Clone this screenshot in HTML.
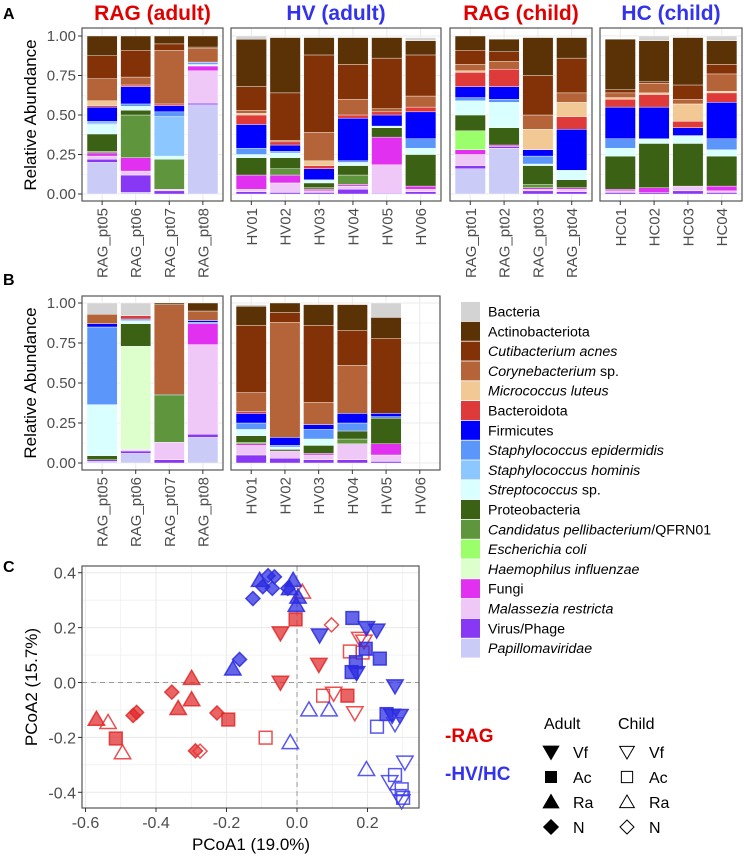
<!DOCTYPE html>
<html><head><meta charset="utf-8"><style>
body{margin:0;background:#fff}
svg{display:block;font-family:"Liberation Sans",Arial,sans-serif}
</style></head><body>
<svg id="fig" width="744" height="856" viewBox="0 0 744 856" xmlns="http://www.w3.org/2000/svg"></svg>
<script>
// ---- data ----
const catNames = ["Papillomaviridae","Virus/Phage","Malassezia restricta","Fungi","Haemophilus influenzae","Escherichia coli","Candidatus pellibacterium/QFRN01","Proteobacteria","Streptococcus sp.","Staphylococcus hominis","Staphylococcus epidermidis","Firmicutes","Bacteroidota","Micrococcus luteus","Corynebacterium sp.","Cutibacterium acnes","Actinobacteriota","Bacteria"];
const catColors = ["#cbcbf8","#8837f5","#f0c8f8","#e130f0","#dcffcc","#9aff6a","#5e953d","#3a6114","#d9ffff","#8cc8ff","#5b97fa","#0000ff","#de3a3a","#f2c994","#b5643a","#833208","#5a3206","#d3d3d3"];

const groupsA = ["RAG (adult)","HV (adult)","RAG (child)","HC (child)"];
const samplesA1 = ["RAG_pt05","RAG_pt06","RAG_pt07","RAG_pt08"];
const samplesA2 = ["HV01","HV02","HV03","HV04","HV05","HV06"];
const samplesA3 = ["RAG_pt01","RAG_pt02","RAG_pt03","RAG_pt04"];
const samplesA4 = ["HC01","HC02","HC03","HC04"];
const valuesA1 = [
 [.20,.02,.02,.02,0,0,.01,.11,.06,.01,.01,.09,.01,.03,.14,.145,.125,0],
 [.01,.11,.025,.085,0,0,.27,.03,.025,0,.015,.11,.01,0,.05,.17,.09,0],
 [0,.02,.01,0,0,0,.19,0,.02,.25,.03,.04,.01,0,.34,.04,.05,0],
 [.565,.01,.205,.03,0,0,0,0,.01,0,.01,.005,0,0,.085,.01,.07,0]];
const valuesA2 = [
 [0,.015,.015,.09,0,0,0,.11,.02,0,.04,.15,.06,.01,.02,.15,.30,.02],
 [0,.01,.06,.05,0,0,.04,.07,.03,0,.01,.04,.02,0,.01,.30,.35,0],
 [0,.01,.01,.01,0,0,.01,.03,.02,0,0,.07,.02,.03,.18,.49,.11,0],
 [0,.03,.02,.01,0,0,.06,.06,.02,0,.01,.27,.02,0,.10,.22,.17,0],
 [0,.005,.18,.175,0,0,0,.06,.01,0,0,.07,.02,0,.02,.32,.13,0],
 [0,.015,.015,.02,0,0,0,.20,.04,0,.06,.17,.03,0,.07,.26,.09,.02]];
const valuesA3 = [
 [.16,.02,.07,.03,0,.12,0,.10,.09,0,.02,.07,.09,.01,.04,.09,.09,0],
 [.29,.01,0,.01,0,0,0,.11,.16,0,.02,.08,.11,0,.05,.06,.08,0],
 [0,.02,.01,.01,0,0,.02,.12,.01,0,.05,.04,0,.13,.09,.25,.24,0],
 [0,.015,.015,.01,0,0,0,.05,.06,0,0,.26,.08,.09,.06,.22,.13,0]];
const valuesA4 = [
 [0,.01,.01,.01,0,0,0,.21,.05,0,.06,.20,.05,.01,.03,.02,.32,0],
 [0,.01,0,.03,0,0,0,.28,.03,0,0,.20,.08,.01,.06,.01,.26,.03],
 [0,.02,.03,0,0,0,0,.27,.05,0,0,.05,.04,.11,.03,.09,.30,0],
 [0,.01,.01,.03,0,0,0,.19,.04,0,.07,.23,.06,.01,.11,.06,.15,.03]];
const valuesB1 = [
 [.01,.01,0,0,0,0,0,.025,.32,0,.485,.02,0,0,.06,0,0,.07],
 [.06,.015,.01,0,.645,0,0,.14,.02,0,.01,0,.02,0,0,0,0,.08],
 [0,.02,.11,0,0,0,.29,.01,0,0,0,0,0,0,.56,0,.01,0],
 [.16,.02,.56,.13,0,0,0,0,0,0,.01,.01,0,0,.06,0,.05,0]];
const valuesB2 = [
 [0,.05,.06,.01,0,0,.01,.04,.04,0,.04,.06,.01,0,.12,.42,.12,.01],
 [0,.03,.04,.005,0,0,0,.01,.015,0,.01,.05,0,0,.72,.06,.06,0],
 [0,.02,.03,.01,0,0,0,.05,.04,0,.06,.03,0,0,.14,.48,.13,0],
 [0,.02,.10,0,0,0,.03,.05,0,0,.05,.06,0,0,.30,.22,.16,0],
 [0,.01,.04,.07,0,0,0,.16,0,0,.01,.02,0,0,0,.47,.13,.09],
 [0,0,0,0,0,0,0,0,0,0,0,0,0,0,0,0,0,0]];
const yTicksBar = ["0.00","0.25","0.50","0.75","1.00"];

// PCoA points: [x, y]
const ragAdultVf = [[-0.047,0.18],[0.062,0.065],[-0.047,0.0]];
const ragAdultAc = [[-0.514,-0.204],[-0.195,-0.135],[-0.004,0.23],[0.143,-0.048]];
const ragAdultRa = [[-0.569,-0.133],[-0.299,0.016],[-0.337,-0.094],[-0.299,-0.062]];
const ragAdultN  = [[-0.355,-0.035],[-0.455,-0.109],[-0.465,-0.12],[-0.288,-0.249],[-0.227,-0.111]];
const ragChildVf = [[0.104,-0.04],[0.164,-0.111],[0.178,0.16],[0.19,0.15]];
const ragChildAc = [[-0.089,-0.201],[0.074,-0.048],[0.15,0.113],[0.186,0.109]];
const ragChildRa = [[-0.536,-0.145],[-0.495,-0.255],[0.015,0.33]];
const ragChildN  = [[-0.275,-0.25],[0.098,0.21]];
const hvVf = [[0.064,0.172],[0.197,0.199],[0.226,0.19],[0.169,0.035],[0.278,-0.013],[0.292,-0.121],[0.27,-0.12]];
const hvAc = [[0.157,0.235],[0.195,0.123],[0.235,0.087],[0.167,0.074],[0.155,0.038],[0.254,-0.115]];
const hvRa = [[-0.182,0.05],[-0.106,0.373],[-0.011,0.373],[-0.002,0.282],[-0.021,0.343],[0.003,0.312]];
const hvN  = [[-0.125,0.306],[-0.163,0.084],[-0.082,0.389],[-0.064,0.385],[-0.07,0.343],[-0.026,0.343],[-0.097,0.349]];
const hcVf = [[0.278,-0.151],[0.306,-0.291],[0.263,-0.362],[0.297,-0.432],[0.287,-0.413]];
const hcAc = [[0.227,-0.161],[0.278,-0.337],[0.297,-0.389],[0.301,-0.42]];
const hcRa = [[0.034,-0.099],[0.091,-0.099],[-0.019,-0.218],[0.197,-0.316]];
const hcN  = [];
const xTicksC = [-0.6,-0.4,-0.2,0.0,0.2];
const yTicksC = [-0.4,-0.2,0.0,0.2,0.4];

// ---- drawing ----
const svg = document.getElementById('fig');
const NS = "http://www.w3.org/2000/svg";
function mk(tag, attrs, parent){const e=document.createElementNS(NS,tag);for(const k in attrs)e.setAttribute(k,attrs[k]);(parent||svg).appendChild(e);return e;}
function txt(s, attrs, parent){const e=mk('text',attrs,parent);e.textContent=s;return e;}

function barPanel(x0,x1,y0,y1,ytop,ybot,samples,values,title,tcol,showY,name){
  const g=mk('g',{});
  
  
  const yS=v=>ybot-(ybot-ytop)*v;
  const n=samples.length, step=(x1-x0)/(n+0.2);
  const xC=i=>x0+(i+0.6)*step;
  for(let k=0;k<=8;k++){const yy=yS(k/8);mk('line',{x1:x0,x2:x1,y1:yy,y2:yy,stroke:'#ebebeb','stroke-width':k%2?0.6:1.1},g);}
  for(let i=0;i<n;i++)mk('line',{x1:xC(i),x2:xC(i),y1:y0,y2:y1,stroke:'#ebebeb','stroke-width':1.1},g);
  values.forEach((vals,i)=>{let c=0;vals.forEach((v,k)=>{if(v<=0)return;const r=mk('rect',{x:xC(i)-0.45*step,width:0.9*step,y:yS(c+v),height:yS(c)-yS(c+v),fill:catColors[k],stroke:'#fff','stroke-width':0.4},g);
    
    
    c+=v;});});
  mk('rect',{x:x0,y:y0,width:x1-x0,height:y1-y0,fill:'none',stroke:'#555','stroke-width':1.2},g);
  samples.forEach((s,i)=>{mk('line',{x1:xC(i),x2:xC(i),y1:y1,y2:y1+4,stroke:'#333'},g);
    const t=txt(s,{transform:`translate(${xC(i)+5.5},${y1+7}) rotate(-90)`,'text-anchor':'end','font-size':15,fill:'#4d4d4d'},g);
    
    });
  if(showY){yTicksBar.forEach((s,k)=>{const yy=yS(k/4);mk('line',{x1:x0-4,x2:x0,y1:yy,y2:yy,stroke:'#333'},g);
    const t=txt(s,{x:x0-6,y:yy+5,'text-anchor':'end','font-size':15,fill:'#4d4d4d'},g);
    
    });}
  if(title){const t=txt(title,{x:(x0+x1)/2,y:20,'text-anchor':'middle','font-size':21,'font-weight':'bold',fill:tcol},g);
    
    }
}
barPanel(82,223,28,201,36,194,samplesA1,valuesA1,groupsA[0],'#e00000',true,'panel-a-rag-adult');
barPanel(231,441,28,201,36,194,samplesA2,valuesA2,groupsA[1],'#3333ee',false,'panel-a-hv-adult');
barPanel(450,592,28,201,36,194,samplesA3,valuesA3,groupsA[2],'#e00000',false,'panel-a-rag-child');
barPanel(600,742,28,201,36,194,samplesA4,valuesA4,groupsA[3],'#3333ee',false,'panel-a-hc-child');
barPanel(82,223,296,470,303,463,samplesA1,valuesB1,null,null,true,'panel-b-rag-adult');
barPanel(231,440,296,470,303,463,samplesA2,valuesB2,null,null,false,'panel-b-hv-adult');

let t;
t=txt('Relative Abundance',{transform:'translate(36,115) rotate(-90)','text-anchor':'middle','font-size':17,fill:'#000'});

t=txt('Relative Abundance',{transform:'translate(36,383) rotate(-90)','text-anchor':'middle','font-size':17,fill:'#000'});

t=txt('A',{x:3,y:19,'font-size':16,'font-weight':'bold'});
t=txt('B',{x:3,y:285,'font-size':16,'font-weight':'bold'});
t=txt('C',{x:3,y:572,'font-size':16,'font-weight':'bold'});

const legendOrder=catNames.map((_,i)=>catNames.length-1-i);
const legendHTML={"Cutibacterium acnes":'<tspan font-style="italic">Cutibacterium acnes</tspan>',
"Corynebacterium sp.":'<tspan font-style="italic">Corynebacterium</tspan> sp.',
"Micrococcus luteus":'<tspan font-style="italic">Micrococcus luteus</tspan>',
"Staphylococcus epidermidis":'<tspan font-style="italic">Staphylococcus epidermidis</tspan>',
"Staphylococcus hominis":'<tspan font-style="italic">Staphylococcus hominis</tspan>',
"Streptococcus sp.":'<tspan font-style="italic">Streptococcus</tspan> sp.',
"Candidatus pellibacterium/QFRN01":'<tspan font-style="italic">Candidatus pellibacterium</tspan>/QFRN01',
"Escherichia coli":'<tspan font-style="italic">Escherichia coli</tspan>',
"Haemophilus influenzae":'<tspan font-style="italic">Haemophilus influenzae</tspan>',
"Malassezia restricta":'<tspan font-style="italic">Malassezia restricta</tspan>',
"Papillomaviridae":'<tspan font-style="italic">Papillomaviridae</tspan>'};
legendOrder.forEach((k,j)=>{const yy=302+j*19.8;
  const r=mk('rect',{x:461,y:yy,width:19,height:19,fill:catColors[k]});
  
  
  const e=mk('text',{x:488,y:yy+14.5,'font-size':14.2,fill:'#000'});
  e.innerHTML=legendHTML[catNames[k]]||catNames[k];
  
  
});

// Panel C
const cx0=82,cx1=419,cy0=566,cy1=808;
const xS=v=>297+v*352.5, yS=v=>682.5-v*274.5;
const gC=mk('g',{});


for(let v=-0.6;v<=0.31;v+=0.1){const xx=xS(v);mk('line',{x1:xx,x2:xx,y1:cy0,y2:cy1,stroke:'#ebebeb','stroke-width':Math.abs(Math.round(v*10))%2?0.6:1.1},gC);}
for(let v=-0.4;v<=0.41;v+=0.1){const yy=yS(v);mk('line',{x1:cx0,x2:cx1,y1:yy,y2:yy,stroke:'#ebebeb','stroke-width':Math.abs(Math.round(v*10))%2?0.6:1.1},gC);}
mk('line',{x1:xS(0),x2:xS(0),y1:cy0,y2:cy1,stroke:'#999','stroke-dasharray':'5,4','stroke-width':1},gC);
mk('line',{x1:cx0,x2:cx1,y1:yS(0),y2:yS(0),stroke:'#999','stroke-dasharray':'5,4','stroke-width':1},gC);
function shape(type,x,y,s,filled,col,parent,op){
  let e;const a={stroke:col,'stroke-width':1.5,fill:filled?col:'none'};
  if(filled)a['fill-opacity']=op;
  if(type==='sq'){e=mk('rect',Object.assign({x:x-s*0.75,y:y-s*0.75,width:s*1.5,height:s*1.5},a),parent);}
  else if(type==='up'){e=mk('polygon',Object.assign({points:`${x},${y-s} ${x+s*1.05},${y+s*0.8} ${x-s*1.05},${y+s*0.8}`},a),parent);}
  else if(type==='dn'){e=mk('polygon',Object.assign({points:`${x},${y+s} ${x+s*1.05},${y-s*0.8} ${x-s*1.05},${y-s*0.8}`},a),parent);}
  else {e=mk('polygon',Object.assign({points:`${x},${y-s} ${x+s},${y} ${x},${y+s} ${x-s},${y}`},a),parent);}
  return e;
}
const sets=[[ragAdultVf,'dn',1,'#e02828'],[ragAdultAc,'sq',1,'#e02828'],[ragAdultRa,'up',1,'#e02828'],[ragAdultN,'di',1,'#e02828'],
[ragChildVf,'dn',0,'#e83030'],[ragChildAc,'sq',0,'#e83030'],[ragChildRa,'up',0,'#e83030'],[ragChildN,'di',0,'#e83030'],
[hvVf,'dn',1,'#2a2ae0'],[hvAc,'sq',1,'#2a2ae0'],[hvRa,'up',1,'#2a2ae0'],[hvN,'di',1,'#2a2ae0'],
[hcVf,'dn',0,'#3a3aee'],[hcAc,'sq',0,'#3a3aee'],[hcRa,'up',0,'#3a3aee'],[hcN,'di',0,'#3a3aee']];
sets.forEach(([pts,type,f,col])=>pts.forEach(p=>{
  const e=shape(type,xS(p[0]),yS(p[1]),type==='sq'?8.5:(type==='di'?7:7.8),f,col,gC,0.72);
  
  
  e.setAttribute('stroke-opacity','0.85');
}));
mk('rect',{x:cx0,y:cy0,width:cx1-cx0,height:cy1-cy0,fill:'none',stroke:'#555','stroke-width':1.2},gC);
xTicksC.forEach(v=>{const xx=xS(v);mk('line',{x1:xx,x2:xx,y1:cy1,y2:cy1+4,stroke:'#333'},gC);
  const e=txt(v.toFixed(1),{x:xx,y:828,'text-anchor':'middle','font-size':16,fill:'#4d4d4d'},gC);
  
  });
yTicksC.forEach(v=>{const yy=yS(v);mk('line',{x1:cx0-4,x2:cx0,y1:yy,y2:yy,stroke:'#333'},gC);
  const e=txt(v.toFixed(1),{x:cx0-6,y:yy+6,'text-anchor':'end','font-size':16,fill:'#4d4d4d'},gC);
  
  });
t=txt('PCoA1 (19.0%)',{x:251,y:850,'text-anchor':'middle','font-size':17});

t=txt('PCoA2 (15.7%)',{transform:'translate(37,687) rotate(-90)','text-anchor':'middle','font-size':17});


t=txt('-RAG',{x:445,y:742,'font-size':19,'font-weight':'bold',fill:'#e00000'});

t=txt('-HV/HC',{x:445,y:780,'font-size':19,'font-weight':'bold',fill:'#3333ee'});

t=txt('Adult',{x:544,y:729,'font-size':16});
t=txt('Child',{x:618,y:729,'font-size':16});
const legRows=[['Vf','dn'],['Ac','sq'],['Ra','up'],['N','di']];
legRows.forEach(([lab,type],i)=>{const yy=752+i*25;
  let e=shape(type,551,yy,type==='sq'?7:7,1,'#000',svg,1);
  
  
  e=shape(type,627,yy,type==='sq'?7.5:7,0,'#000',svg,1);
  e.setAttribute('stroke-width','1');
  
  
  let tt=txt(lab,{x:573,y:yy+6,'font-size':16});
  
  
  tt=txt(lab,{x:649,y:yy+6,'font-size':16});
  
  
});
</script>
</body></html>
